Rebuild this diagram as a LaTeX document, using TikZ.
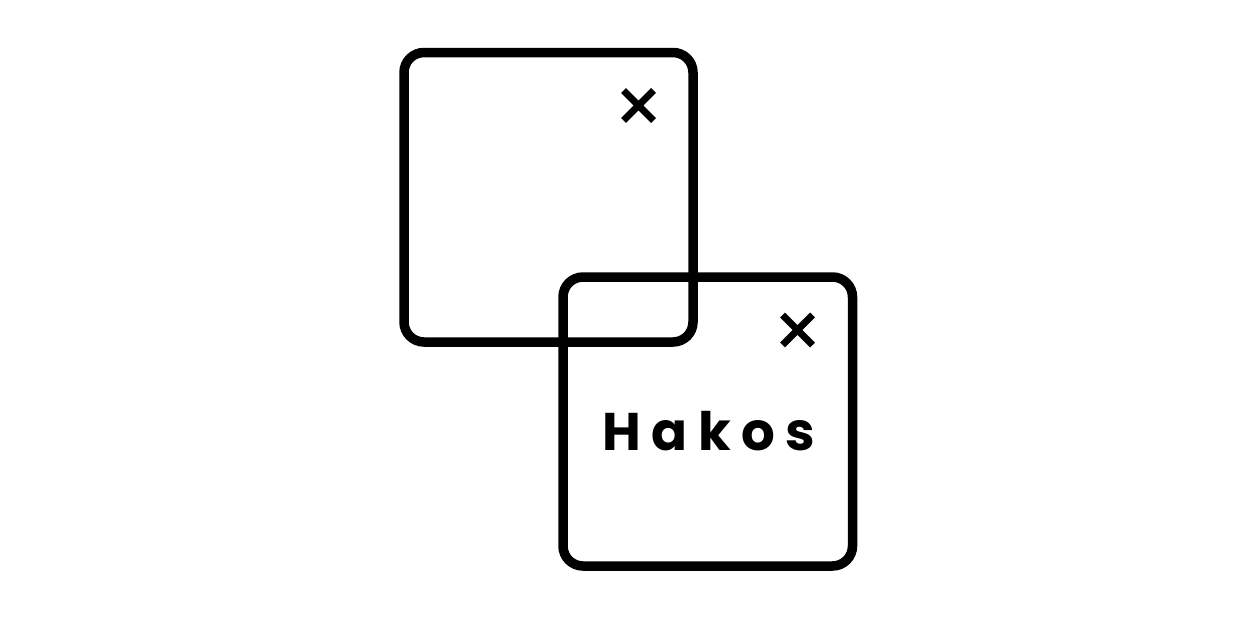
\documentclass[tikz,border=0pt]{standalone}
\usepackage{fontspec}
\setmainfont{Poppins}
\tikzset{
  win/.style={draw=black,line width=9.5pt,rounded corners=20pt},
  crossmark/.style={draw=black,line width=7pt},
  brand/.style={inner sep=0pt,anchor=base,font=\fontsize{53pt}{53pt}\selectfont\bfseries}
}
\begin{document}
\begin{tikzpicture}[x=1pt,y=-1pt]
\useasboundingbox (0,0) rectangle (1260,630);
\fill[white] (0,0) rectangle (1260,630);
\draw[win] (404,52.5) rectangle (693,342);
\draw[win] (563,277) rectangle (852.5,566);
\draw[crossmark] (623.5,90.5) -- (653.5,120.5) (653.5,90.5) -- (623.5,120.5);
\draw[crossmark] (782.5,315) -- (812.5,345) (812.5,315) -- (782.5,345);
\node[brand] (title) at (709,450) {\addfontfeature{LetterSpace=20}Hakos};
\end{tikzpicture}
\end{document}
